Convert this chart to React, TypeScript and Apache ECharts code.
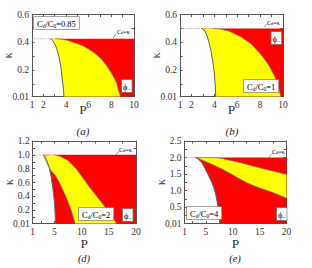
import React, { useEffect, useRef } from "react";
import * as echarts from "echarts";

const SERIF = '"Liberation Serif", "DejaVu Serif", serif';

// ---------- Panel (a): Cd/C0 = 0.85 ----------
const aRatio = "0.85";
const aKappaMax = 0.425;
const aWhite = [[2.6, 0.425], [2.8, 0.415], [3.0, 0.39], [3.2, 0.35], [3.4, 0.29], [3.55, 0.22], [3.68, 0.13], [3.78, 0.06], [3.82, 0.01]];
const aOuter = [[3.05, 0.425], [3.5, 0.423], [4.1, 0.415], [5.0, 0.39], [5.6, 0.37], [6.4, 0.33], [7.05, 0.286], [7.6, 0.23], [8.1, 0.166], [8.45, 0.11], [8.65, 0.05], [8.8, 0.01]];

// ---------- Panel (b): Cd/C0 = 1 ----------
const bRatio = "1";
const bKappaMax = 0.5;
const bWhite = [[2.85, 0.5], [3.1, 0.49], [3.3, 0.46], [3.5, 0.41], [3.7, 0.34], [3.85, 0.27], [4.0, 0.18], [4.08, 0.09], [4.12, 0.01]];
const bOuter = [[3.9, 0.5], [4.5, 0.495], [5.3, 0.48], [6.3, 0.44], [7.2, 0.39], [8.1, 0.31], [8.8, 0.23], [9.3, 0.15], [9.6, 0.08], [9.8, 0.01]];

// ---------- Panel (d): Cd/C0 = 2 ----------
const dRatio = "2";
const dKappaMax = 1.0;
const dWhite = [[2.9, 1.0], [3.3, 0.97], [3.7, 0.9], [4.1, 0.8], [4.4, 0.68], [4.7, 0.52], [4.95, 0.35], [5.1, 0.18], [5.2, 0.01]];
const dYellowLeft = [[3.0, 0.99], [3.3, 0.93], [3.8, 0.85], [4.5, 0.76], [5.2, 0.7], [5.8, 0.62], [6.5, 0.5], [7.2, 0.38], [7.9, 0.24], [8.4, 0.12], [8.8, 0.01]];
const dYellowRight = [[5.0, 1.0], [6.0, 0.98], [7.5, 0.92], [9.0, 0.8], [10.3, 0.66], [11.6, 0.52], [12.8, 0.4], [14.0, 0.28], [15.2, 0.16], [15.9, 0.08], [16.4, 0.01]];

// ---------- Panel (e): Cd/C0 = 4 ----------
const eRatio = "4";
const eKappaMax = 2.0;
const eWhite = [[3.0, 2.0], [3.6, 1.95], [4.2, 1.85], [4.8, 1.68], [5.4, 1.48], [6.0, 1.28], [6.4, 1.12], [6.8, 0.9], [7.1, 0.65], [7.35, 0.4], [7.5, 0.2], [7.6, 0.01]];
const eYellowUpper = [[3.4, 2.0], [6.5, 1.995], [8.0, 1.97], [10.0, 1.9], [12.0, 1.82], [14.0, 1.73], [16.0, 1.65], [18.0, 1.57], [20.0, 1.49]];
const eYellowLower = [[3.4, 1.99], [4.2, 1.93], [5.5, 1.84], [6.7, 1.75], [7.9, 1.66], [9.5, 1.52], [11.0, 1.38], [12.9, 1.22], [15.0, 1.08], [17.2, 0.96], [18.6, 0.87], [20.0, 0.78]];

// ---------- Axes ----------
const xLabelsSmall = [1, 2, 4, 6, 8, 10];
const xTicksSmall = [1, 2, 3, 4, 5, 6, 7, 8, 9, 10];
const xLabelsLarge = [1, 5, 10, 15, 20];
const xTicksLarge = [1, 2.5, 5, 7.5, 10, 12.5, 15, 17.5, 20];
const yLabelsAB = [0.01, 0.2, 0.4, 0.6];
const yTicksAB = [0.01, 0.1, 0.2, 0.3, 0.4, 0.5, 0.6];
const yLabelsD = [0.01, 0.2, 0.4, 0.6, 0.8, 1.0, 1.2];
const yTicksD = [0.01, 0.1, 0.2, 0.3, 0.4, 0.5, 0.6, 0.7, 0.8, 0.9, 1.0, 1.1, 1.2];
const yLabelsE = [0.01, 0.5, 1.0, 1.5, 2.0, 2.5];
const yTicksE = [0.01, 0.25, 0.5, 0.75, 1.0, 1.25, 1.5, 1.75, 2.0, 2.25, 2.5];

const RED = "#ff0000";
const YELLOW = "#ffff00";

type Pt = number[];

interface Panel {
  grid: { left: number; top: number; width: number; height: number };
  xMax: number;
  yMax: number;
  xLabels: number[];
  xTicks: number[];
  yLabels: number[];
  yTicks: number[];
  kMax: number;
  white: Pt[];
  yellow: Pt[];
  curves: Pt[][];
  pGap: number;
}

const panels: Panel[] = [
  {
    grid: { left: 32, top: 14.5, width: 102, height: 82 },
    xMax: 10, yMax: 0.6, xLabels: xLabelsSmall, xTicks: xTicksSmall, yLabels: yLabelsAB, yTicks: yTicksAB,
    kMax: aKappaMax, white: aWhite,
    yellow: [...aWhite, ...aOuter.slice().reverse()],
    curves: [aWhite, aOuter], pGap: 7,
  },
  {
    grid: { left: 180, top: 14.5, width: 103, height: 82 },
    xMax: 10, yMax: 0.6, xLabels: xLabelsSmall, xTicks: xTicksSmall, yLabels: yLabelsAB, yTicks: yTicksAB,
    kMax: bKappaMax, white: bWhite,
    yellow: [...bWhite, ...bOuter.slice().reverse()],
    curves: [bWhite, bOuter], pGap: 7,
  },
  {
    grid: { left: 32.7, top: 141, width: 103.3, height: 82.5 },
    xMax: 20, yMax: 1.2, xLabels: xLabelsLarge, xTicks: xTicksLarge, yLabels: yLabelsD, yTicks: yTicksD,
    kMax: dKappaMax, white: dWhite,
    yellow: [...dYellowLeft, ...dYellowRight.slice().reverse()],
    curves: [dWhite, dYellowLeft, dYellowRight], pGap: 14,
  },
  {
    grid: { left: 184.5, top: 141, width: 102, height: 82.5 },
    xMax: 20, yMax: 2.5, xLabels: xLabelsLarge, xTicks: xTicksLarge, yLabels: yLabelsE, yTicks: yTicksE,
    kMax: eKappaMax, white: eWhite,
    yellow: [...eYellowUpper, ...eYellowLower.slice().reverse()],
    curves: [eWhite, eYellowUpper, eYellowLower], pGap: 14,
  },
];

const ratios = [aRatio, bRatio, dRatio, eRatio];

const fmtY = (v: number) => (Math.abs(v - 0.01) < 1e-9 ? "0.01" : v.toFixed(1));

function polygonSeries(pts: Pt[], fill: string, idx: number) {
  return {
    type: "custom",
    coordinateSystem: "cartesian2d",
    xAxisIndex: idx * 2,
    yAxisIndex: idx * 2,
    data: [pts[0]],
    silent: true,
    renderItem: (_params: any, api: any) => ({
      type: "polygon",
      shape: { points: pts.map((p) => api.coord(p)) },
      style: { fill, stroke: null },
    }),
  };
}

function lineSeries(pts: Pt[], idx: number, color: string, width: number, type: string = "solid") {
  return {
    type: "line",
    xAxisIndex: idx * 2,
    yAxisIndex: idx * 2,
    data: pts,
    showSymbol: false,
    silent: true,
    lineStyle: { color, width, type },
    z: 5,
  };
}

const AXIS_COLOR = "#555";
const LABEL_COLOR = "#333";

function buildOption() {
  const grid: any[] = [];
  const xAxis: any[] = [];
  const yAxis: any[] = [];
  const series: any[] = [];

  panels.forEach((p, i) => {
    grid.push({ ...p.grid, containLabel: false });
    const xBase = {
      type: "value", gridIndex: i, min: 1, max: p.xMax,
      splitLine: { show: false },
      axisLine: { show: true, onZero: false, lineStyle: { color: AXIS_COLOR, width: 1 } },
      axisTick: { show: true, inside: true, length: 2.5, customValues: p.xTicks, lineStyle: { color: AXIS_COLOR } },
    };
    xAxis.push({
      ...xBase, position: "bottom",
      axisLabel: { show: true, customValues: p.xLabels, fontFamily: SERIF, fontSize: 9.5, color: LABEL_COLOR, margin: 3 },
      name: "P", nameLocation: "middle", nameGap: p.pGap, nameMoveOverlap: false,
      nameTextStyle: { fontFamily: SERIF, fontSize: 13.5, color: LABEL_COLOR, lineHeight: 12 },
    });
    xAxis.push({ ...xBase, position: "top", axisLabel: { show: false } });
    const yBase = {
      type: "value", gridIndex: i, min: 0.01, max: p.yMax,
      splitLine: { show: false },
      axisLine: { show: true, onZero: false, lineStyle: { color: AXIS_COLOR, width: 1 } },
      axisTick: { show: true, inside: true, length: 2.5, customValues: p.yTicks, lineStyle: { color: AXIS_COLOR } },
    };
    yAxis.push({
      ...yBase, position: "left",
      axisLabel: { show: true, customValues: p.yLabels, formatter: fmtY, fontFamily: SERIF, fontSize: 9.5, color: LABEL_COLOR, margin: 3 },
      name: "κ", nameLocation: "middle", nameGap: 18, nameRotate: 90, nameMoveOverlap: false,
      nameTextStyle: { fontFamily: SERIF, fontSize: 12, color: LABEL_COLOR },
    });
    yAxis.push({ ...yBase, position: "right", axisLabel: { show: false } });

    const red = [...p.white, [p.xMax, 0.01], [p.xMax, p.kMax]];
    series.push(polygonSeries(red, RED, i));
    series.push(polygonSeries(p.yellow, YELLOW, i));
    p.curves.forEach((c, ci) => series.push(lineSeries(c, i, ci === 0 ? "#666" : "#777", ci === 0 ? 1 : 0.7)));
    series.push(lineSeries([[1, p.kMax], p.white[0]], i, "#999", 0.8, "dotted"));
  });

  const ratioText = (r: string) => `{n|C}{s|d}{n|/C}{s|0}{n|=${r}}`;
  const rich = {
    n: { fontFamily: SERIF, fontSize: 8.5, color: "#222", verticalAlign: "bottom" },
    s: { fontFamily: SERIF, fontSize: 5.5, color: "#222", verticalAlign: "bottom", padding: [0, 0, -1, 0] },
  };
  const phiText = "{n|ϕ}{s|−}";
  const smallRich = {
    n: { fontFamily: SERIF, fontSize: 6, color: "#333", verticalAlign: "bottom" },
    s: { fontFamily: SERIF, fontSize: 4.5, color: "#333", verticalAlign: "bottom" },
  };
  const box = (x: number, y: number, text: string, pad: number[]) => ({
    type: "text", x, y, z: 100,
    style: {
      text, rich, backgroundColor: "#fff", borderColor: "#888", borderWidth: 0.8, padding: pad,
      align: "left", verticalAlign: "top",
    },
  });
  const cdk = (x: number, y: number, lx: number, ly: number) => [
    { type: "line", z: 100, shape: { x1: lx, y1: ly, x2: lx + 3, y2: ly - 4 }, style: { stroke: "#555", lineWidth: 0.6 } },
    { type: "text", x, y, z: 100, style: { text: "{n|C}{s|d}{n|=κ}", rich: smallRich, align: "left", verticalAlign: "middle" } },
  ];
  const caption = (x: number, y: number, t: string, size: number) => ({
    type: "text", x, y, style: { text: t, fontFamily: SERIF, fontStyle: "italic", fontSize: size, fill: "#222", align: "center", verticalAlign: "middle" },
  });

  const graphic: any[] = [
    box(34, 17, ratioText(ratios[0]), [2, 3, 1, 3]),
    box(122, 80, phiText, [2, 1, 1, 1]),
    ...cdk(117, 32, 113, 38),
    box(244, 80, ratioText(ratios[1]), [2, 3, 1, 3]),
    box(271.5, 32, phiText, [2, 1, 1, 1]),
    ...cdk(267, 23, 264, 27.5),
    box(79, 208, ratioText(ratios[2]), [2, 3, 1, 3]),
    box(123, 209, phiText, [2, 1, 1, 1]),
    ...cdk(119, 150, 116, 155),
    box(187, 207, ratioText(ratios[3]), [2, 3, 1, 3]),
    box(277, 208, phiText, [2, 1, 1, 1]),
    ...cdk(272, 152, 269, 157.5),
    caption(83, 131, "(a)", 11),
    caption(232, 131, "(b)", 11),
    caption(84, 258, "(d)", 10.5),
    caption(235, 258, "(e)", 10.5),
  ];

  return { animation: false, backgroundColor: "#fff", grid, xAxis, yAxis, series, graphic };
}

export default function App() {
  const ref = useRef<HTMLDivElement>(null);
  useEffect(() => {
    if (!ref.current) return;
    const chart = echarts.init(ref.current, undefined, { renderer: "svg" });
    chart.setOption(buildOption() as any);
    return () => chart.dispose();
  }, []);
  return <div ref={ref} style={{ position: "fixed", left: 0, top: 0, width: 312, height: 268 }} />;
}
